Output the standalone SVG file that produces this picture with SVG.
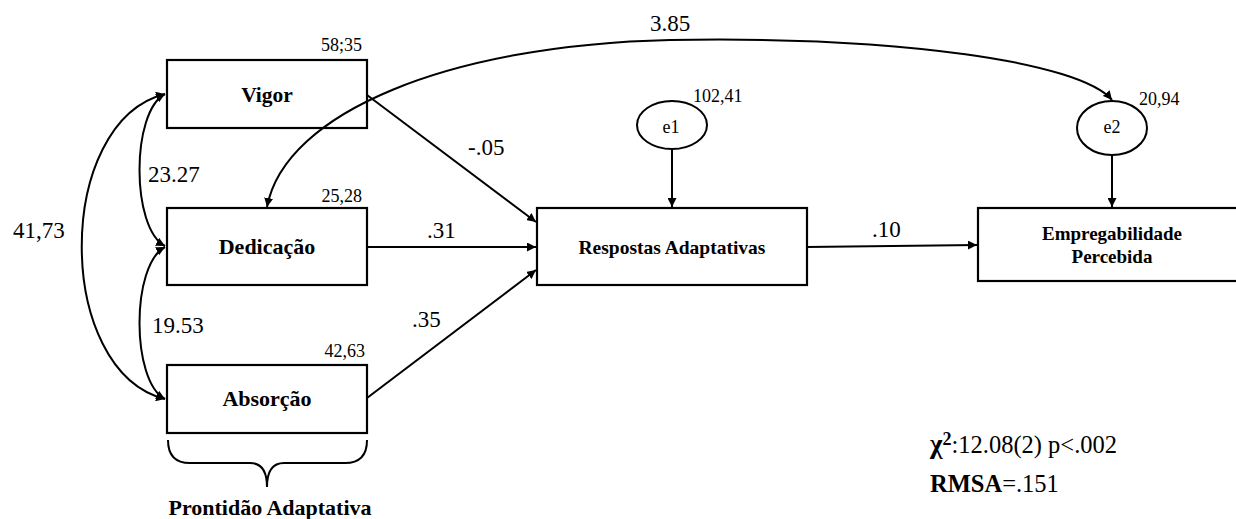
<svg xmlns="http://www.w3.org/2000/svg" width="1236" height="519" viewBox="0 0 1236 519">
<style>
.box{fill:#fff;stroke:#000;stroke-width:2.2}
.ell{fill:#fff;stroke:#000;stroke-width:2}
.ln{fill:none;stroke:#000;stroke-width:2}
text{font-family:'Liberation Serif','DejaVu Serif','Times New Roman',serif;fill:#000}
.lbl{font-weight:bold;text-anchor:middle}
.num{font-size:23px}
.sm{font-size:18px}
</style>
<defs>
<marker id="ah" viewBox="0 0 10 10" refX="10" refY="5" markerWidth="9" markerHeight="9" markerUnits="userSpaceOnUse" orient="auto-start-reverse">
<path d="M0,0 L10,5 L0,10 z" fill="#000"/>
</marker>
</defs>
<rect width="1236" height="519" fill="#fff"/>
<g id="vigor">
<rect class="box" x="167" y="60" width="200" height="68"/>
<text class="lbl" x="267" y="102" font-size="21.5">Vigor</text>
<text class="sm" x="362" y="51" text-anchor="end">58;35</text>
</g>
<g id="dedicacao">
<rect class="box" x="167" y="208" width="200" height="77"/>
<text class="lbl" x="267" y="254" font-size="22">Dedicação</text>
<text class="sm" x="362" y="202" text-anchor="end">25,28</text>
</g>
<g id="absorcao">
<rect class="box" x="167" y="365" width="200" height="68"/>
<text class="lbl" x="267" y="406" font-size="22">Absorção</text>
<text class="sm" x="365" y="357" text-anchor="end">42,63</text>
</g>
<g id="prontidao">
<path class="ln" d="M168,440 Q168,463 190,463 L250,463 Q267,463 267,487 Q267,463 284,463 L345,463 Q367,463 367,440"/>
<text class="lbl" x="270" y="515" font-size="22">Prontidão Adaptativa</text>
</g>
<g id="respostas">
<rect class="box" x="537" y="208" width="270" height="77"/>
<text class="lbl" x="672" y="254" font-size="19.5">Respostas Adaptativas</text>
</g>
<g id="e1">
<ellipse class="ell" cx="672" cy="125" rx="35" ry="24"/>
<text class="sm" x="671" y="133" font-size="14" text-anchor="middle">e1</text>
<text class="sm" x="693" y="102">102,41</text>
</g>
<g id="e2">
<ellipse class="ell" cx="1112" cy="128" rx="35" ry="27"/>
<text class="sm" x="1112" y="133" font-size="14" text-anchor="middle">e2</text>
<text class="sm" x="1139" y="105">20,94</text>
</g>
<g id="empregabilidade">
<rect class="box" x="978" y="208" width="270" height="73"/>
<text class="lbl" x="1112" y="240" font-size="19">Empregabilidade</text>
<text class="lbl" x="1112" y="263" font-size="19">Percebida</text>
</g>
<g id="connectors">
<path class="ln" d="M165,94 C131,112 131,228 165,246" marker-start="url(#ah)" marker-end="url(#ah)"/>
<path class="ln" d="M165,247 C131,265 131,381 165,399" marker-start="url(#ah)" marker-end="url(#ah)"/>
<path class="ln" d="M165,94 C54,122 54,371 165,399" marker-start="url(#ah)" marker-end="url(#ah)"/>
<path class="ln" d="M267,207 C285,112 450,45 670,40 C900,36 1080,62 1112,100" marker-start="url(#ah)" marker-end="url(#ah)"/>
<path class="ln" d="M367,95 L536,222" marker-end="url(#ah)"/>
<path class="ln" d="M367,247 L536,247" marker-end="url(#ah)"/>
<path class="ln" d="M367,398 L536,270" marker-end="url(#ah)"/>
<path class="ln" d="M672,149 L672,207" marker-end="url(#ah)"/>
<path class="ln" d="M1112,155 L1112,207" marker-end="url(#ah)"/>
<path class="ln" d="M807,247 L977,245" marker-end="url(#ah)"/>
<text class="num" x="148" y="182">23.27</text>
<text class="num" x="152" y="333">19.53</text>
<text class="num" x="13" y="238">41,73</text>
<text class="num" x="650" y="31">3.85</text>
<text class="num" x="468" y="155">-.05</text>
<text class="num" x="427" y="238">.31</text>
<text class="num" x="412" y="327">.35</text>
<text class="num" x="872" y="237">.10</text>
</g>
<g id="fit">
<text x="930" y="453" font-size="24.5"><tspan font-weight="bold" font-size="27">χ</tspan><tspan font-weight="bold" font-size="18" dy="-8">2</tspan><tspan dy="8">:12.08(2) p&lt;.002</tspan></text>
<text x="930" y="492" font-size="24.5"><tspan font-weight="bold">RMSA</tspan>=.151</text>
</g>
</svg>
